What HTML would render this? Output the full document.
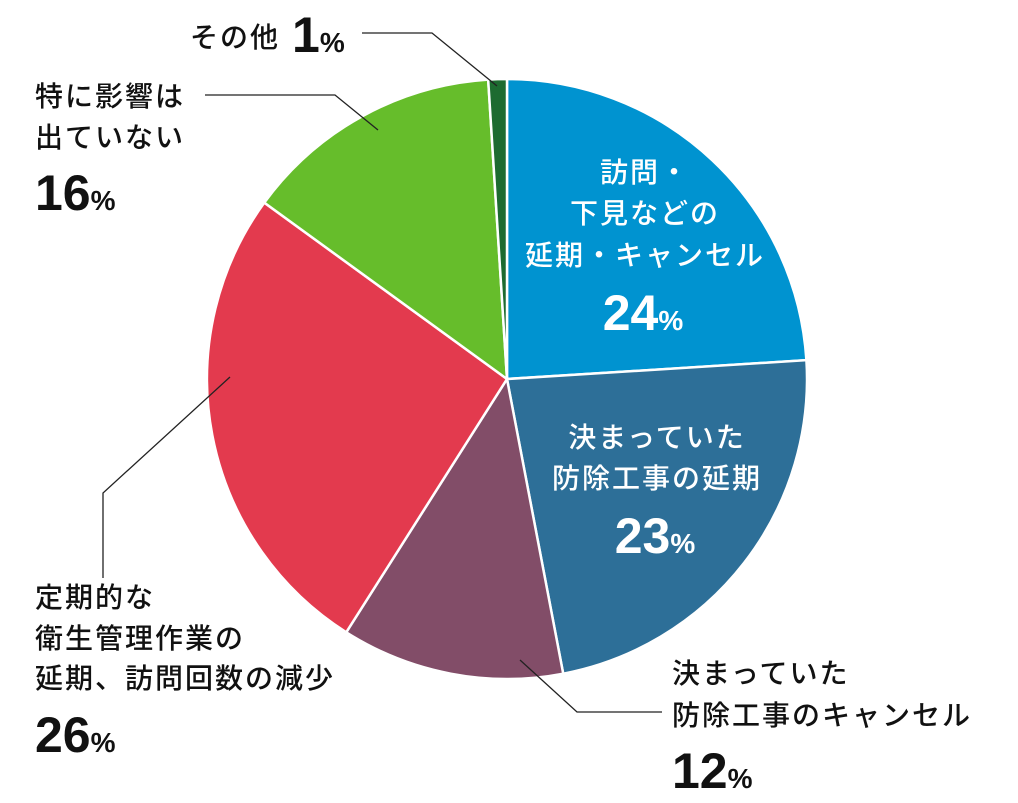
<!DOCTYPE html>
<html><head><meta charset="utf-8">
<style>
body{margin:0;background:#fff;width:1018px;height:798px;overflow:hidden;}
svg text{font-family:"Liberation Sans","Noto Sans CJK JP",sans-serif;}
.jp{font-family:"Noto Sans CJK JP","Liberation Sans",sans-serif;font-size:28px;font-weight:500;letter-spacing:2px;}
.num{font-family:"Liberation Sans",sans-serif;font-weight:bold;font-size:50px;}
.pc{font-family:"Liberation Sans",sans-serif;font-weight:bold;font-size:28px;}
</style></head>
<body>
<svg id="chart" width="1018" height="798" xmlns="http://www.w3.org/2000/svg">
<g id="slices"></g>
<g id="labels"></g>
</svg>
<script>
const categories = ["訪問・下見などの延期・キャンセル","決まっていた防除工事の延期","決まっていた防除工事のキャンセル","定期的な衛生管理作業の延期、訪問回数の減少","特に影響は出ていない","その他"];
const values = [24, 23, 12, 26, 14, 1];
const pctLabels = ["24", "23", "12", "26", "16", "1"];
const colors = ["#0093d0","#2d6f98","#824d68","#e33a4e","#66bd2b","#1d6b30"];

const NS="http://www.w3.org/2000/svg";
const cx=507, cy=379, r=300;
const total=values.reduce((a,b)=>a+b,0);
function pt(frac,rad){const a=frac*2*Math.PI;return [cx+rad*Math.sin(a), cy-rad*Math.cos(a)];}
const gS=document.getElementById('slices');
let acc=0;
values.forEach((v,i)=>{
  const f0=acc/total, f1=(acc+v)/total; acc+=v;
  const [x0,y0]=pt(f0,r),[x1,y1]=pt(f1,r);
  const large=(f1-f0)>0.5?1:0;
  const p=document.createElementNS(NS,'path');
  p.setAttribute('d',`M${cx},${cy} L${x0},${y0} A${r},${r} 0 ${large} 1 ${x1},${y1} Z`);
  p.setAttribute('fill',colors[i]);
  p.setAttribute('stroke','#fff');
  p.setAttribute('stroke-width','2.5');
  
  
  gS.appendChild(p);
});
const gL=document.getElementById('labels');
function txt(x,y,s,cls,fill,anchor){
  const t=document.createElementNS(NS,'text');
  t.setAttribute('x',x);t.setAttribute('y',y);
  t.setAttribute('class',cls);t.setAttribute('fill',fill);
  t.setAttribute('text-anchor',anchor||'start');
  
  
  t.innerHTML=s;gL.appendChild(t);return t;
}
function numTxt(x,y,i,fill,anchor){
  txt(x,y,pctLabels[i]+'<tspan class="pc">%</tspan>','num',fill,anchor);
}
function line(pts){
  const l=document.createElementNS(NS,'polyline');
  l.setAttribute('points',pts);l.setAttribute('fill','none');
  l.setAttribute('stroke','#222');l.setAttribute('stroke-width','1.3');
  
  
  gL.appendChild(l);
}
// inside labels
txt(645,182,'訪問・','jp','#fff','middle');
txt(645,223,'下見などの','jp','#fff','middle');
txt(645,265,'延期・キャンセル','jp','#fff','middle');
numTxt(643,330,0,'#fff','middle');
txt(657,447,'決まっていた','jp','#fff','middle');
txt(657,488,'防除工事の延期','jp','#fff','middle');
numTxt(655,553,1,'#fff','middle');
// outside labels
txt(190,47,'その他','jp','#111');
numTxt(292,52,5,'#111');
line('362,33 432,33 497,86');
txt(35,106,'特に影響は','jp','#111');
txt(35,147,'出ていない','jp','#111');
numTxt(35,210,4,'#111');
line('205,95 335,95 378,130');
txt(35,607,'定期的な','jp','#111');
txt(35,648,'衛生管理作業の','jp','#111');
txt(35,688,'延期、訪問回数の減少','jp','#111');
numTxt(35,752,3,'#111');
line('103,578 103,493 230,377');
txt(672,683,'決まっていた','jp','#111');
txt(672,725,'防除工事のキャンセル','jp','#111');
numTxt(672,788,2,'#111');
line('520,660 577,712 662,712');
</script>
</body></html>
